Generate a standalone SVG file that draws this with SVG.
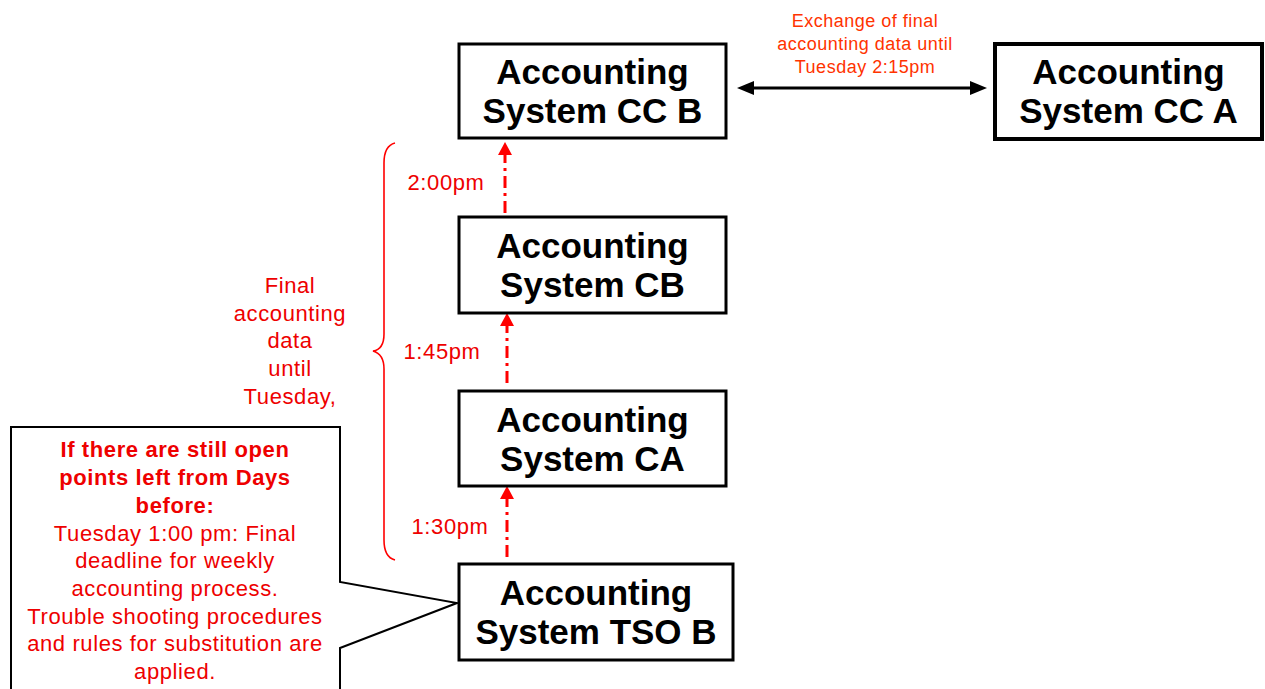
<svg xmlns="http://www.w3.org/2000/svg" width="1265" height="689" viewBox="0 0 1265 689">
  <style>
    .box { fill: #ffffff; stroke: #000000; stroke-width: 3; }
    .boxtxt { font-family: "Liberation Sans", Arial, sans-serif; font-weight: bold; font-size: 35px; fill: #000000; text-anchor: middle; }
    .lbl { font-family: "Liberation Sans", Arial, sans-serif; font-size: 22px; fill: #ee0000; text-anchor: middle; letter-spacing: 0.6px; }
    .lblb { font-weight: bold; }
    .top { font-family: "Liberation Sans", Arial, sans-serif; font-size: 18px; fill: #ff3300; text-anchor: middle; letter-spacing: 0.5px; }
    .flow { fill: none; stroke: #ff0000; stroke-width: 3; stroke-dasharray: 12 5 3 5; }
  </style>
  <defs>
    <marker id="redHead" markerUnits="userSpaceOnUse" markerWidth="14" markerHeight="14" refX="0" refY="7" orient="auto">
      <path d="M0,0 L13,7 L0,14 z" fill="#ff0000"/>
    </marker>
    <marker id="blackHead" markerUnits="userSpaceOnUse" markerWidth="18" markerHeight="14" refX="0" refY="7" orient="auto-start-reverse">
      <path d="M0,0 L17,7 L0,14 z" fill="#000000"/>
    </marker>
  </defs>

  <rect width="1265" height="689" fill="#ffffff"/>

  <!-- connectors -->
  <g id="connectors">
    <line x1="754" y1="88" x2="970" y2="88" stroke="#000000" stroke-width="3" marker-start="url(#blackHead)" marker-end="url(#blackHead)"/>
    <line class="flow" x1="505" y1="213" x2="505" y2="155" marker-end="url(#redHead)"/>
    <line class="flow" x1="507" y1="383" x2="507" y2="326" marker-end="url(#redHead)"/>
    <line class="flow" x1="507" y1="557" x2="507" y2="499" marker-end="url(#redHead)"/>
    <!-- curly brace spanning the three hand-overs -->
    <path d="M395,143 C387,145 384,152 384,163 L384,334 C384,345 380,350 373,351 C380,353 384,358 384,369 L384,540 C384,551 387,558 395,560" fill="none" stroke="#ff0000" stroke-width="1.6"/>
  </g>

  <!-- labels -->
  <g id="labels">
    <text class="top" x="865" y="27">Exchange of final</text>
    <text class="top" x="865" y="50">accounting data until</text>
    <text class="top" x="865" y="73">Tuesday 2:15pm</text>

    <text class="lbl" x="446" y="190">2:00pm</text>
    <text class="lbl" x="442" y="359">1:45pm</text>
    <text class="lbl" x="450" y="534">1:30pm</text>

    <text class="lbl" x="290" y="293">Final</text>
    <text class="lbl" x="290" y="321">accounting</text>
    <text class="lbl" x="290" y="348">data</text>
    <text class="lbl" x="290" y="376">until</text>
    <text class="lbl" x="290" y="404">Tuesday,</text>
  </g>

  <!-- callout note -->
  <g id="note">
    <path d="M11,695 L11,427 L340,427 L340,582 L457,603 L340,648 L340,695" fill="#ffffff" stroke="#000000" stroke-width="2"/>
    <text class="lbl lblb" x="175" y="457">If there are still open</text>
    <text class="lbl lblb" x="175" y="485">points left from Days</text>
    <text class="lbl lblb" x="175" y="513">before:</text>
    <text class="lbl" x="175" y="541">Tuesday 1:00 pm: Final</text>
    <text class="lbl" x="175" y="568">deadline for weekly</text>
    <text class="lbl" x="175" y="596">accounting process.</text>
    <text class="lbl" x="175" y="624">Trouble shooting procedures</text>
    <text class="lbl" x="175" y="651">and rules for substitution are</text>
    <text class="lbl" x="175" y="679">applied.</text>
  </g>

  <!-- systems -->
  <g id="cc-b">
    <rect class="box" x="459" y="44" width="267" height="94"/>
    <text class="boxtxt" x="592.5" y="84">Accounting</text>
    <text class="boxtxt" x="592.5" y="123">System CC B</text>
  </g>
  <g id="cc-a">
    <rect class="box" x="995" y="44" width="267" height="95" style="stroke-width:4"/>
    <text class="boxtxt" x="1128.5" y="84">Accounting</text>
    <text class="boxtxt" x="1128.5" y="123">System CC A</text>
  </g>
  <g id="cb">
    <rect class="box" x="459" y="217" width="267" height="96"/>
    <text class="boxtxt" x="592.5" y="258">Accounting</text>
    <text class="boxtxt" x="592.5" y="297">System CB</text>
  </g>
  <g id="ca">
    <rect class="box" x="459" y="391" width="267" height="95"/>
    <text class="boxtxt" x="592.5" y="432">Accounting</text>
    <text class="boxtxt" x="592.5" y="471">System CA</text>
  </g>
  <g id="tso-b">
    <rect class="box" x="459" y="564" width="274" height="96"/>
    <text class="boxtxt" x="596" y="605">Accounting</text>
    <text class="boxtxt" x="596" y="644">System TSO B</text>
  </g>
</svg>
